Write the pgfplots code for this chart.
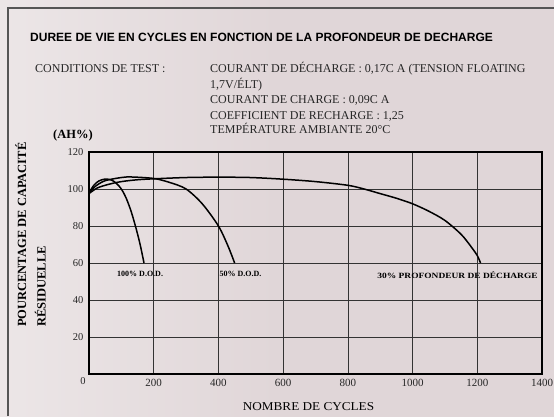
\documentclass[border=0pt]{standalone}
\usepackage{fontspec}
\setmainfont{Liberation Serif}
\newfontfamily\arialf{Liberation Sans}
\usepackage{graphicx}
\usepackage{pgfplots}
\pgfplotsset{compat=1.18}
\definecolor{bgc}{RGB}{224,214,216}
\definecolor{bgl}{RGB}{236,230,231}
\definecolor{framec}{RGB}{85,85,85}
\begin{document}
\begin{tikzpicture}[x=1bp,y=1bp]
\useasboundingbox (0,0) rectangle (554,416);
\shade[left color=bgl, right color=bgc, middle color=bgc] (0,0) rectangle (554,416);
\draw[framec, line width=1.4bp] (8,0) -- (8,408) -- (554,408);
% title
\node[anchor=base west, inner sep=0, font=\arialf\bfseries\fontsize{12bp}{14bp}\selectfont] at (30,375) {DUREE DE VIE EN CYCLES EN FONCTION DE LA PROFONDEUR DE DECHARGE};
% conditions
\begin{scope}[every node/.style={anchor=base west, inner sep=0, font=\fontsize{12bp}{14bp}\selectfont, text=black!85}]
\node at (35,343.6) {CONDITIONS DE TEST :};
\node at (210,343.6) {COURANT DE DÉCHARGE : 0,17C A (TENSION FLOATING};
\node at (210,327.9) {1,7V/ÉLT)};
\node at (210,312.1) {COURANT DE CHARGE : 0,09C A};
\node at (210,296.6) {COEFFICIENT DE RECHARGE : 1,25};
\node at (210,282.4) {TEMPÉRATURE AMBIANTE 20°C};
\end{scope}
\node[anchor=base west, inner sep=0, font=\bfseries\fontsize{12.5bp}{14bp}\selectfont] at (53,278) {(AH\%)};
% y label
\node[rotate=90, anchor=base west, inner sep=0, font=\bfseries\fontsize{12.5bp}{14bp}\selectfont] at (26,89) {POURCENTAGE DE CAPACITÉ};
\node[rotate=90, anchor=base west, inner sep=0, font=\bfseries\fontsize{12.5bp}{14bp}\selectfont] at (45.5,89) {RÉSIDUELLE};
% x label
\node[anchor=base, inner sep=0, font=\fontsize{12bp}{14bp}\selectfont] at (308.5,6) {\scalebox{1.1}[1]{NOMBRE DE CYCLES}};
\begin{axis}[
  at={(89bp,42bp)}, anchor=south west,
  scale only axis, width=453bp, height=222bp,
  xmin=0, xmax=1400, ymin=0, ymax=120,
  xtick={200,400,600,800,1000,1200,1400},
  ytick={20,40,60,80,100,120},
  grid=major,
  major grid style={black!80, line width=0.6bp},
  major tick length=0pt,
  axis line style={black, line width=1.1bp},
  /pgf/number format/assume math mode=true,
  /pgf/number format/1000 sep={},
  xticklabel style={font=\fontsize{11bp}{13bp}\selectfont, yshift=-2bp, text=black!85},
  yticklabel style={font=\fontsize{10.5bp}{12bp}\selectfont, xshift=-2bp, text=black!85},
  clip=false,
]
\addplot[black, line width=1.5bp, smooth, tension=0.5] coordinates {
 (0,98) (15,102) (30,104.3) (50,105.4) (70,104.8) (85,103) (100,100) (115,95) (130,88) (145,79) (158,70) (170,60)};
\addplot[black, line width=1.5bp, smooth, tension=0.5] coordinates {
 (0,98) (20,101.5) (50,104.5) (100,106.2) (130,106.5) (200,105.7) (250,103.5) (300,100) (350,92) (400,80) (430,69) (450,60)};
\addplot[black, line width=1.5bp, smooth, tension=0.5] coordinates {
 (0,97.5) (25,100.5) (60,102.5) (100,104) (150,105) (200,105.5) (300,106.2) (400,106.4) (500,106.2) (600,105.3) (700,104) (800,102) (850,100) (900,97.5) (950,95) (1000,92) (1050,88) (1100,83) (1150,75.5) (1180,69) (1200,64) (1210,60)};
\node[font=\bfseries\fontsize{8bp}{10bp}\selectfont, inner sep=0] at (axis cs:158,54) {100\% D.O.D.};
\node[font=\bfseries\fontsize{8bp}{10bp}\selectfont, inner sep=0] at (axis cs:468,54) {50\% D.O.D.};
\node[font=\bfseries\fontsize{8bp}{10bp}\selectfont, inner sep=0] at (axis cs:1139,53.5) {\scalebox{1.18}[1]{30\% PROFONDEUR DE DÉCHARGE}};
\node[font=\fontsize{10.5bp}{12bp}\selectfont, inner sep=0, text=black!85] at (axis cs:0,0) [xshift=-6bp, yshift=-7bp] {0};
\end{axis}
\end{tikzpicture}
\end{document}
